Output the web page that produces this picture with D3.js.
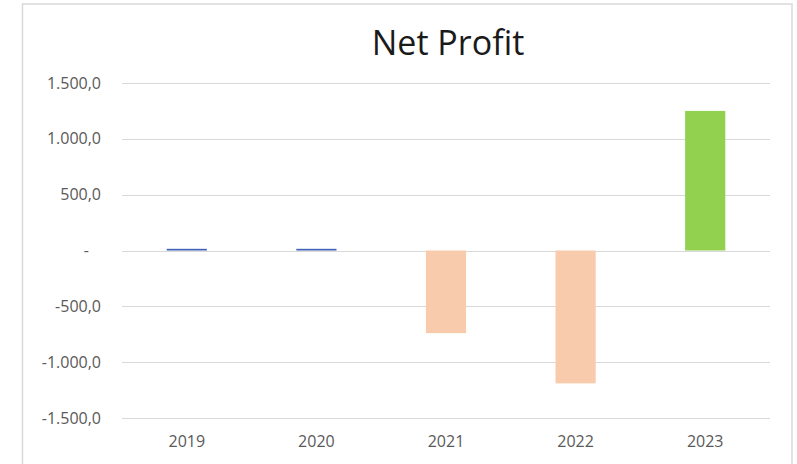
<!DOCTYPE html>
<html lang="en">
<head>
<meta charset="UTF-8">
<title>Net Profit</title>
<style>
  body { margin:0; background:#fff; }
  #CHART { display:block; }
  #CHART text { font-family:"Open Sans", sans-serif; }
  .tick-label { font-size:16px; fill:#595959; }
  .title { font-size:34px; fill:#1a1a1a; }
</style>
</head>
<body>
<svg id="CHART" width="797" height="464"></svg>

<script src="https://cdnjs.cloudflare.com/ajax/libs/d3/7.8.5/d3.min.js"></script>
<script>
// data
const YEARS = ["2019", "2020", "2021", "2022", "2023"];
const PROFIT = [15, 15, -740, -1190, 1250];
const BAR_COLORS = ["#3E63B6", "#3E63B6", "#F8CBAD", "#F8CBAD", "#92D050"];
const Y_TICKS = [1500, 1000, 500, 0, -500, -1000, -1500];

var width = 797, height = 464;
var plot = { left: 122, right: 770, top: 83, bottom: 418 };

var svg = d3.select("#CHART");

// chart frame
svg.append("rect")
  .attr("x", 22.5).attr("y", 4)
  .attr("width", 792 - 22.5).attr("height", height + 10)
  .attr("fill", "#fff")
  .attr("stroke", "#d9d9d9")
  .attr("stroke-width", 1.5);

var x = d3.scaleBand()
  .domain(YEARS)
  .range([plot.left, plot.right])
  .paddingInner(0.69)
  .paddingOuter(0.345);

var y = d3.scaleLinear()
  .domain([-1500, 1500])
  .range([plot.bottom, plot.top]);

// gridlines
svg.append("g")
  .selectAll("line")
  .data(Y_TICKS)
  .join("line")
    .attr("x1", plot.left).attr("x2", plot.right)
    .attr("y1", function(d){ return Math.round(y(d)) + 0.5; })
    .attr("y2", function(d){ return Math.round(y(d)) + 0.5; })
    .attr("stroke", "#d9d9d9")
    .attr("stroke-width", 1);

// y labels, excel accounting style: zero shows as "-"
var fmt = function(d){
  if (d === 0) return "-";
  var s = d3.format(",.1f")(Math.abs(d)).replace(/,/g, "#").replace(".", ",").replace(/#/g, ".");
  return (d < 0 ? "-" : "") + s;
};
svg.append("g")
  .selectAll("text")
  .data(Y_TICKS)
  .join("text")
    .attr("class", "tick-label")
    .attr("x", function(d){ return d === 0 ? 89 : 101; })
    .attr("y", function(d){ return y(d); })
    .attr("dy", "0.35em")
    .attr("text-anchor", "end")
    .text(fmt);

// bars
var rows = YEARS.map(function(d, i){ return { year: d, value: PROFIT[i], color: BAR_COLORS[i] }; });
svg.append("g")
  .selectAll("rect")
  .data(rows)
  .join("rect")
    .attr("x", function(d){ return x(d.year); })
    .attr("width", x.bandwidth())
    .attr("y", function(d){ return Math.min(y(d.value), y(0)); })
    .attr("height", function(d){ return Math.abs(y(d.value) - y(0)); })
    .attr("fill", function(d){ return d.color; });

// x labels
svg.append("g")
  .selectAll("text")
  .data(YEARS)
  .join("text")
    .attr("class", "tick-label")
    .attr("x", function(d){ return x(d) + x.bandwidth() / 2; })
    .attr("y", 441)
    .attr("dy", "0.35em")
    .attr("text-anchor", "middle")
    .text(function(d){ return d; });

// title
svg.append("text")
  .attr("class", "title")
  .attr("x", 448)
  .attr("y", 55)
  .attr("text-anchor", "middle")
  .text("Net Profit");
</script>
</body>
</html>
